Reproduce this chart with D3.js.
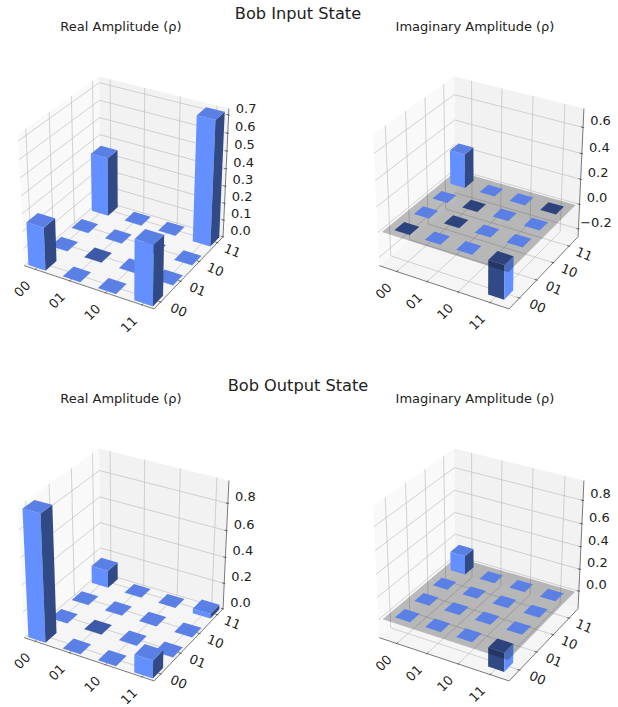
<!DOCTYPE html>
<html><head><meta charset="utf-8">
<script src="https://cdn.jsdelivr.net/npm/d3@7"></script>
<style>html,body{margin:0;padding:0;background:#fff}svg{display:block}text{font-family:"DejaVu Sans";fill:#222}</style>
</head><body><svg id="c" width="618" height="707"></svg>
<script>
const basisLabels = ["00","01","10","11"];
// rows are y (00..11), columns are x (00..11)
const inputReal = [[0.25,0.001,0.001,0.345],[0.001,-0.001,0.001,0.001],[0.001,0.001,0.001,0.001],[0.345,0.001,0.001,0.72]];
const inputImag = [[-0.001,0.001,0.001,-0.27],[0.001,-0.001,0.001,0.001],[0.001,-0.001,0.001,0.001],[0.27,0.001,0.001,-0.001]];
const outputReal = [[0.944,0.001,0.001,0.135],[0.001,-0.001,0.001,0.001],[0.001,0.001,0.001,0.001],[0.135,0.001,0.001,0.037]];
const outputImag = [[0.001,0.001,0.001,-0.17],[0.001,0.001,0.001,0.001],[0.001,0.001,0.001,0.001],[0.17,0.001,0.001,0.001]];
const zTicks1 = [0,0.1,0.2,0.3,0.4,0.5,0.6,0.7];
const zTicks2 = [-0.2,0,0.2,0.4,0.6];
const zTicks3 = [0,0.2,0.4,0.6,0.8];
const zTicks4 = [0,0.2,0.4,0.6,0.8];
const zFormat = d3.format(".1f");
const minus = s => s.replace("-", "\u2212");

const panels = [
 {title:"Real Amplitude (\u03c1)", tx:121, ty:31, ox:125.5, oy:188, data:inputReal, xlim:[0.25,3.75], zlim:[0.0147,0.72], ticks:zTicks1, plane:false},
 {title:"Imaginary Amplitude (\u03c1)", tx:475, ty:31, ox:480.5, oy:188, data:inputImag, xlim:[0,4], zlim:[-0.245,0.72], ticks:zTicks2, plane:true},
 {title:"Real Amplitude (\u03c1)", tx:121, ty:403, ox:125.5, oy:560, data:outputReal, xlim:[0.25,3.75], zlim:[0.02,0.944], ticks:zTicks3, plane:false},
 {title:"Imaginary Amplitude (\u03c1)", tx:475, ty:403, ox:480.5, oy:560, data:outputImag, xlim:[0,4], zlim:[-0.14,0.944], ticks:zTicks4, plane:true}
];
const suptitles = [{t:"Bob Input State",x:298,y:19},{t:"Bob Output State",x:298,y:391}];

const svg = d3.select("#c");
suptitles.forEach(s=>svg.append("text").attr("x",s.x).attr("y",s.y).attr("text-anchor","middle").attr("font-size",16.2).text(s.t));

const BOX=1.143, DIST=10, K=1258;
const az=-60*Math.PI/180, el=30*Math.PI/180;
const W=[Math.cos(el)*Math.cos(az),Math.cos(el)*Math.sin(az),Math.sin(el)];
const U=[-Math.sin(az),Math.cos(az),0];
const V=[W[1]*U[2]-W[2]*U[1],W[2]*U[0]-W[0]*U[2],W[0]*U[1]-W[1]*U[0]];
const dot=(a,b)=>a[0]*b[0]+a[1]*b[1]+a[2]*b[2];

const COL={front:"#648fff",side:"#314985",top:"#5a80e6",dtop:"#3c5aa8"};
const GRID="#c0c0c0", AXIS="#333";
const lineGen=d3.line().x(d=>d[0]).y(d=>d[1]);

panels.forEach(P=>{
  const g=svg.append("g");
  g.append("text").attr("x",P.tx).attr("y",P.ty).attr("text-anchor","middle").attr("font-size",13).text(P.title);
  const sx=d3.scaleLinear().domain(P.xlim).range([0,BOX]);
  const sz=d3.scaleLinear().domain(P.zlim).range([0,BOX]);
  const m=BOX/48;
  const proj=(bx,by,bz)=>{
    const p=[bx-BOX/2,by-BOX/2,bz-BOX/2], d=DIST-dot(p,W);
    return [P.ox+K*dot(p,U)/d, P.oy-K*dot(p,V)/d, d];
  };
  const P3=(x,y,z)=>proj(sx(x),sx(y),sz(z));
  const poly=(pts,fill,op)=>g.append("path").attr("d",lineGen(pts)+"Z").attr("fill",fill).attr("fill-opacity",op==null?1:op);
  const seg=(a,b,col,w)=>g.append("path").attr("d",lineGen([a,b])).attr("stroke",col).attr("stroke-width",w).attr("fill","none");
  const lo=-m, hi=BOX+m;
  // panes
  poly([proj(lo,lo,lo),proj(lo,hi,lo),proj(lo,hi,hi),proj(lo,lo,hi)],"#f9f9f9");
  poly([proj(lo,hi,lo),proj(hi,hi,lo),proj(hi,hi,hi),proj(lo,hi,hi)],"#f2f2f2");
  poly([proj(lo,lo,lo),proj(hi,lo,lo),proj(hi,hi,lo),proj(lo,hi,lo)],"#f5f5f5");
  // grid
  const tickPos=basisLabels.map((_,i)=>i+0.5);
  tickPos.forEach(t=>{
    const b=sx(t);
    seg(proj(b,lo,lo),proj(b,hi,lo),GRID,0.7);
    seg(proj(b,hi,lo),proj(b,hi,hi),GRID,0.7);
    seg(proj(lo,b,lo),proj(hi,b,lo),GRID,0.7);
    seg(proj(lo,b,lo),proj(lo,b,hi),GRID,0.7);
  });
  P.ticks.forEach(t=>{
    const b=sz(t);
    seg(proj(lo,lo,b),proj(lo,hi,b),GRID,0.7);
    seg(proj(lo,hi,b),proj(hi,hi,b),GRID,0.7);
  });
  // axis lines
  seg(proj(lo,lo,lo),proj(hi,lo,lo),AXIS,0.65);
  seg(proj(hi,lo,lo),proj(hi,hi,lo),AXIS,0.65);
  seg(proj(hi,hi,lo),proj(hi,hi,hi),AXIS,0.65);
  // ticks + labels
  const d12=BOX/12;
  basisLabels.forEach((lab,i)=>{
    const b=sx(tickPos[i]);
    seg(proj(b,lo-0.1*d12,lo),proj(b,lo+0.2*d12,lo),AXIS,0.65);
    const a=proj(b,lo,lo), lx=a[0]-13, ly=a[1]+19.5;
    g.append("text").attr("transform",`translate(${lx},${ly}) rotate(-45)`).attr("text-anchor","middle").attr("dominant-baseline","central").attr("font-size",13).text(lab);
    seg(proj(hi+0.1*d12,b,lo),proj(hi-0.2*d12,b,lo),AXIS,0.65);
    const c=proj(hi,b,lo), mx=c[0]+15+(3-i)*1, my=c[1]+8;
    g.append("text").attr("transform",`translate(${mx},${my}) rotate(22.5)`).attr("text-anchor","middle").attr("dominant-baseline","central").attr("font-size",13).text(lab);
  });
  P.ticks.forEach(t=>{
    const b=sz(t);
    seg(proj(hi+0.1*d12,hi,b),proj(hi-0.2*d12,hi,b),AXIS,0.65);
    const a=proj(hi,hi,b);
    g.append("text").attr("x",a[0]+17.5).attr("y",a[1]-6.5).attr("text-anchor","middle").attr("dominant-baseline","central").attr("font-size",13).text(minus(zFormat(t)));
  });
  // bars
  const bars=[];
  P.data.forEach((row,j)=>row.forEach((v,i)=>{
    const x0=i+0.25,x1=i+0.75,y0=j+0.25,y1=j+0.75;
    const c=P3((x0+x1)/2,(y0+y1)/2,0);
    bars.push({v,x0,x1,y0,y1,d:c[2]});
  }));
  const drawBar=b=>{
    const neg=b.v<0, zb=0, zt=b.v;
    const hiZ=neg?zb:zt, loZ=neg?zt:zb;
    const cfFront=neg?COL.side:COL.front, cfSide=neg?COL.front:COL.side, cfTop=neg?COL.dtop:COL.top;
    poly([P3(b.x0,b.y0,loZ),P3(b.x1,b.y0,loZ),P3(b.x1,b.y0,hiZ),P3(b.x0,b.y0,hiZ)],cfFront);
    poly([P3(b.x1,b.y0,loZ),P3(b.x1,b.y1,loZ),P3(b.x1,b.y1,hiZ),P3(b.x1,b.y0,hiZ)],cfSide);
    poly([P3(b.x0,b.y0,hiZ),P3(b.x1,b.y0,hiZ),P3(b.x1,b.y1,hiZ),P3(b.x0,b.y1,hiZ)],cfTop);
  };
  const order=(a,b)=>b.d-a.d;
  bars.filter(b=>b.v<0).sort(order).forEach(drawBar);
  if(P.plane){
    poly([P3(0,0,0),P3(4,0,0),P3(4,4,0),P3(0,4,0)],"#000",0.25);
  }
  bars.filter(b=>b.v>=0).sort(order).forEach(drawBar);
});
</script></body></html>
